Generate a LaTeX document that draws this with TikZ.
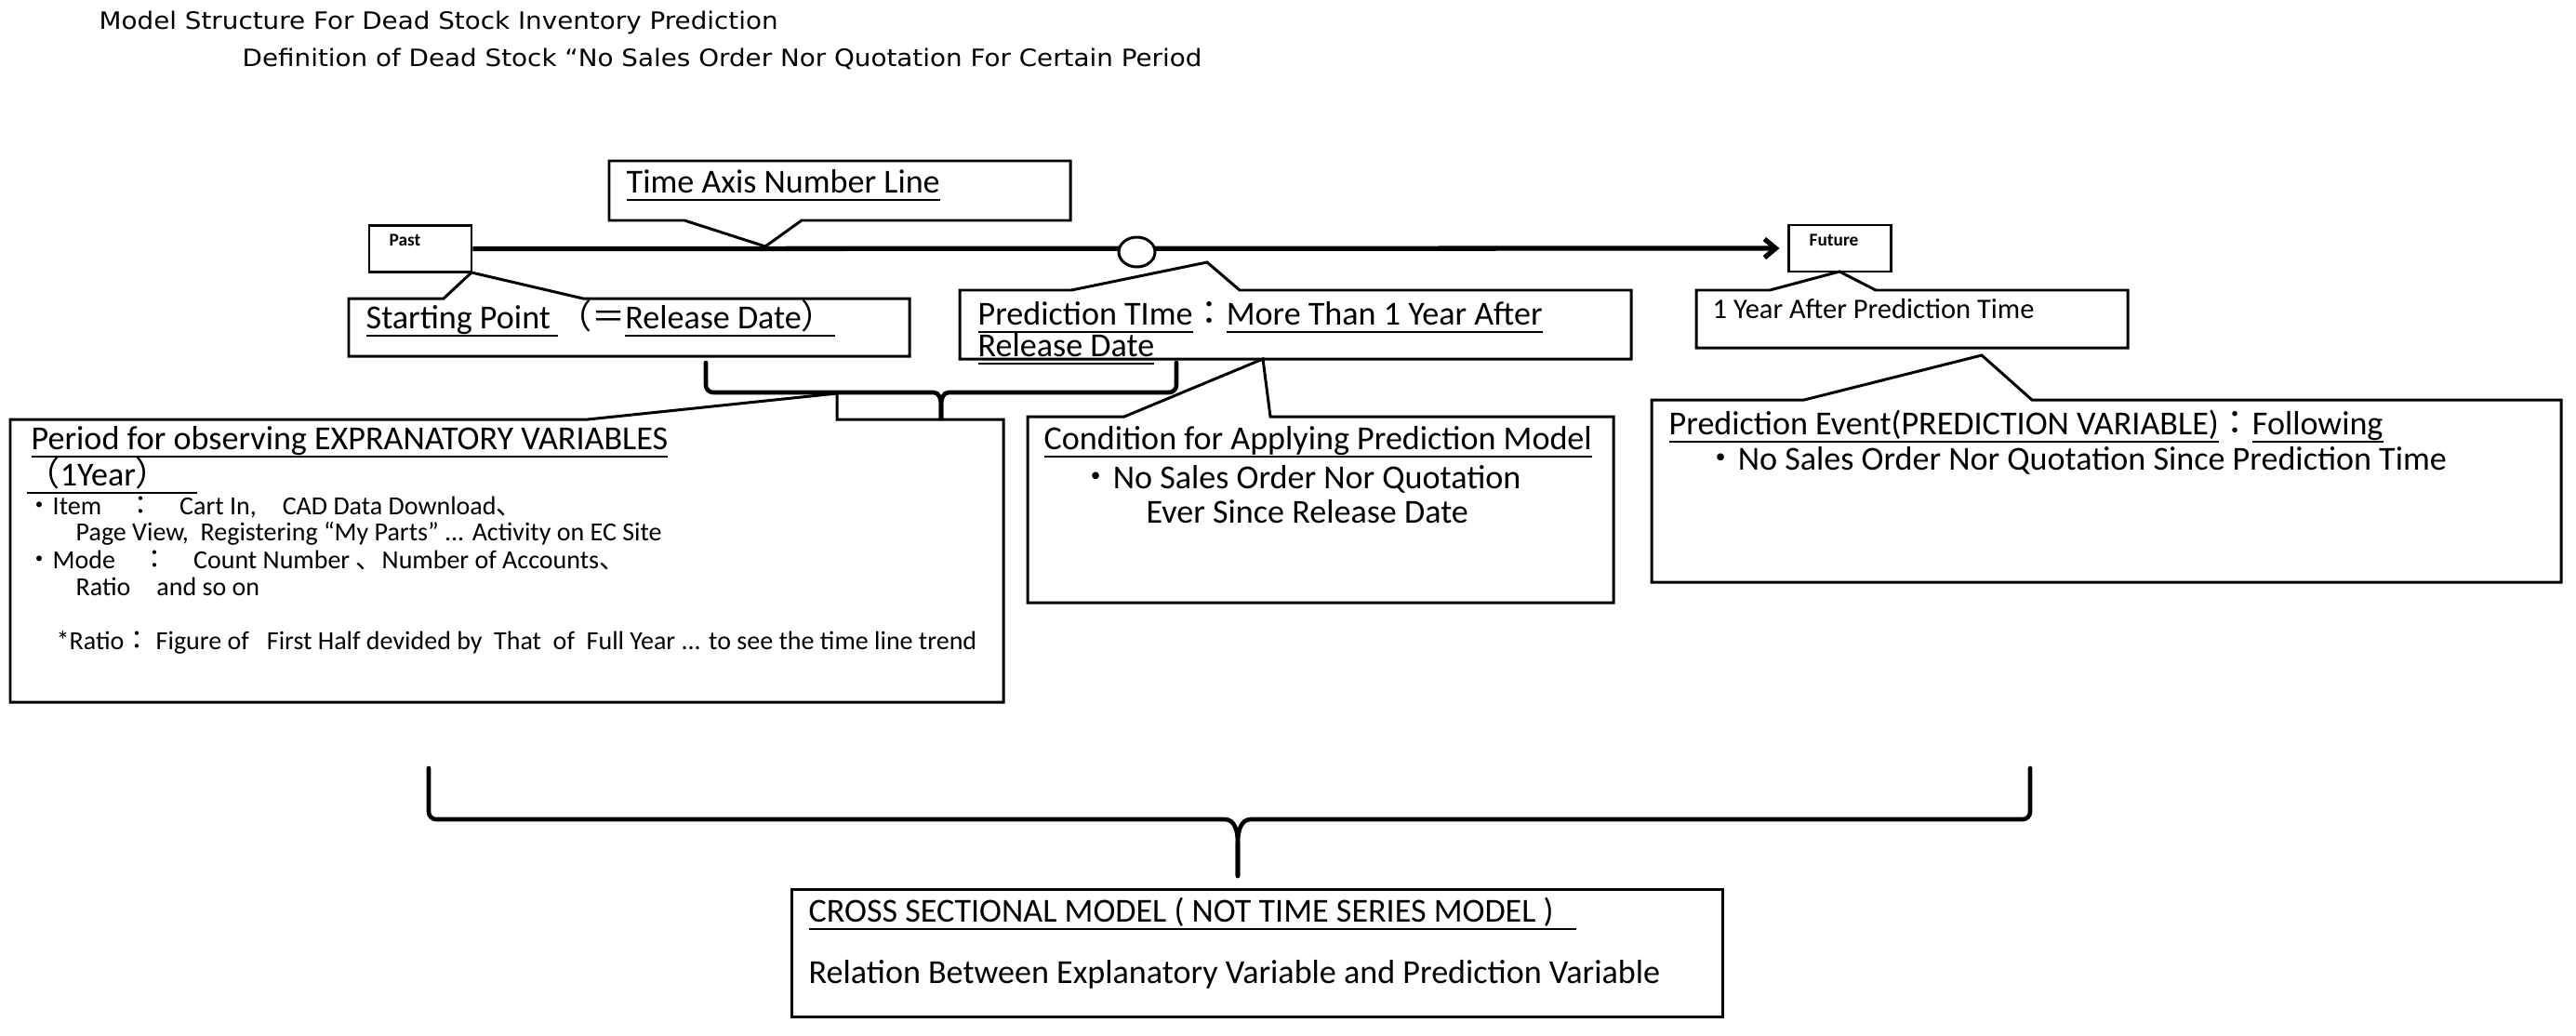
\documentclass[tikz,border=0pt]{standalone}
\usepackage{fontspec}
\setmainfont{Carlito}
\newfontfamily\jpf{Noto Sans CJK JP}
\newfontfamily\ttlf{DejaVu Sans}
\usepackage{xcolor}
\usepackage{graphicx}
\usepackage{tkz-euclide}
\usetikzlibrary{arrows.meta,shapes.geometric}
% subrayado a profundidad fija
\newcommand{\subr}[1]{\setbox0\hbox{#1}\rlap{\rule[-0.085cm]{\wd0}{0.55pt}}\box0}

\begin{document}
\begin{tikzpicture}[
        caja/.style={line width=0.85pt, line join=miter},
        llave/.style={line width=1.3pt, line cap=round},
        txt/.style={anchor=base west, inner sep=0pt, font=\fontsize{10.27}{12}\selectfont},
        chico/.style={txt, font=\fontsize{7.97}{9}\selectfont},
        rotulo/.style={txt, font=\fontsize{5.5}{6}\selectfont\bfseries},
        titulo/.style={txt, font=\ttlf\fontsize{7.3}{8}\selectfont}]
        \useasboundingbox (0,0) rectangle (27.70,-11.14);

        % Paso 1: Títulos de la figura
        \node[titulo] (ttlA) at (1.06,-0.31) {\scalebox{1.083}[1]{Model Structure For Dead Stock Inventory Prediction}};
        \node[titulo] (ttlB) at (2.60,-0.71) {\scalebox{1.083}[1]{Definition of Dead Stock “No Sales Order Nor Quotation For Certain Period}};

        % Paso 2: Cajas Past y Future, eje del tiempo con el instante de predicción
        \node[draw, caja, minimum width=1.10cm, minimum height=0.50cm, inner sep=0pt] (past) at (4.52,-2.675) {};
        \node[draw, caja, minimum width=1.10cm, minimum height=0.50cm, inner sep=0pt] (futuro) at (19.78,-2.67) {};
        \node[rotulo] (pastTxt) at (4.18,-2.64) {Past};
        \node[rotulo] (futTxt) at (19.45,-2.64) {Future};
        \draw[line width=1.5pt, -{Straight Barb[length=0.12cm,width=0.20cm]}] (past.east) -- ([xshift=-0.08cm]futuro.west);
        \node[ellipse, draw, caja, fill=white, minimum width=0.39cm, minimum height=0.32cm, inner sep=0pt] (ahora) at (12.225,-2.71) {};

        % Paso 3: Globo "Time Axis Number Line"
        \tkzDefPoint(6.55,-1.73){T1} \tkzDefPoint(11.51,-1.73){T2}
        \tkzDefPoint(11.51,-2.37){T3} \tkzDefPoint(8.62,-2.37){T4}
        \tkzDefPoint(8.23,-2.65){T5} % punta sobre el eje
        \tkzDefPoint(7.36,-2.37){T6} \tkzDefPoint(6.55,-2.37){T7}
        \tkzDrawPolygon[caja](T1,T2,T3,T4,T5,T6,T7)
        \node[txt] (ejeTxt) at (6.73,-2.07) {\subr{Time Axis Number Line}};

        % Paso 4: Globo del punto de partida
        \tkzDefPoint(3.75,-3.21){S1} \tkzDefPoint(4.77,-3.21){S2}
        \tkzDefPoint(5.07,-2.93){S3} % esquina de Past
        \tkzDefPoint(6.27,-3.21){S4} \tkzDefPoint(9.78,-3.21){S5}
        \tkzDefPoint(9.78,-3.83){S6} \tkzDefPoint(3.75,-3.83){S7}
        \tkzDrawPolygon[caja](S1,S2,S3,S4,S5,S6,S7)
        \node[txt] (inicioTxt) at (3.93,-3.53) {\subr{Starting Point\ }{\jpf （＝}\subr{Release Date{\jpf ）}}};

        % Paso 5: Globo del instante de predicción
        \tkzDefPoint(10.32,-3.12){P1} \tkzDefPoint(11.52,-3.12){P2}
        \tkzDefPoint(12.98,-2.82){P3} % punta junto al círculo
        \tkzDefPoint(13.33,-3.12){P4} \tkzDefPoint(17.54,-3.12){P5}
        \tkzDefPoint(17.54,-3.86){P6} \tkzDefPoint(10.32,-3.86){P7}
        \tkzDrawPolygon[caja](P1,P2,P3,P4,P5,P6,P7)
        \node[txt] (predTxtA) at (10.51,-3.49) {\subr{Prediction TIme}{\jpf ：}\subr{More Than 1 Year After}};
        \node[txt] (predTxtB) at (10.51,-3.83) {\subr{Release Date}};

        % Paso 6: Globo de la condición de aplicación
        \tkzDefPoint(11.05,-4.48){C1} \tkzDefPoint(12.09,-4.48){C2}
        \tkzDefPoint(13.58,-3.86){C3} % punta en el globo anterior
        \tkzDefPoint(13.66,-4.48){C4} \tkzDefPoint(17.35,-4.48){C5}
        \tkzDefPoint(17.35,-6.48){C6} \tkzDefPoint(11.05,-6.48){C7}
        \tkzDrawPolygon[caja](C1,C2,C3,C4,C5,C6,C7)
        \node[txt] (condTxtA) at (11.22,-4.83) {\subr{Condition for Applying Prediction Model}};
        \node[txt] (condTxtB) at (11.60,-5.25) {{\jpf ・}No Sales Order Nor Quotation};
        \node[txt] (condTxtC) at (12.32,-5.62) {Ever Since Release Date};

        % Paso 7: Llave pequeña sobre el periodo de observación
        \draw[llave] (7.59,-3.90) -- (7.59,-4.14) to[out=-90,in=180] (7.67,-4.22) -- (10.04,-4.22) to[out=0,in=90] (10.12,-4.36) -- (10.12,-4.50);
        \draw[llave] (12.65,-3.90) -- (12.65,-4.14) to[out=-90,in=0] (12.57,-4.22) -- (10.20,-4.22) to[out=180,in=90] (10.12,-4.36) -- (10.12,-4.50);

        % Paso 8: Globo de las variables explicativas
        \tkzDefPoint(0.11,-4.51){E1} \tkzDefPoint(6.32,-4.51){E2}
        \tkzDefPoint(9.00,-4.23){E3} % punta en la llave
        \tkzDefPoint(9.00,-4.51){E4} \tkzDefPoint(10.79,-4.51){E5}
        \tkzDefPoint(10.79,-7.55){E6} \tkzDefPoint(0.11,-7.55){E7}
        \tkzDrawPolygon[caja](E1,E2,E3,E4,E5,E6,E7)
        \node[txt] (expA) at (0.33,-4.83) {\subr{Period for observing EXPRANATORY VARIABLES}};
        \node[txt] (expB) at (0.28,-5.22) {\subr{{\jpf （}1Year{\jpf ）}\hspace{0.3cm}}};
        \node[chico] (expC) at (0.28,-5.53) {{\jpf ・}Item{\jpf 　：　}Cart In,{\jpf 　}CAD Data Download{\jpf 、}};
        \node[chico] (expD) at (0.81,-5.81) {Page View,\ \ Registering “My Parts” ... Activity on EC Site};
        \node[chico] (expE) at (0.28,-6.11) {{\jpf ・}Mode{\jpf 　：　}Count Number {\jpf 、}Number of Accounts{\jpf 、}};
        \node[chico] (expF) at (0.81,-6.40) {Ratio{\jpf 　}and so on};
        \node[chico] (expG) at (0.60,-6.98) {*Ratio{\jpf ：}\ Figure of\ \ \ First Half devided by\ \ That\ \ of\ \ Full Year ... to see the time line trend};

        % Paso 9: Globo "1 Year After Prediction Time"
        \tkzDefPoint(18.24,-3.12){Y1} \tkzDefPoint(19.03,-3.12){Y2}
        \tkzDefPoint(19.78,-2.92){Y3} % punta bajo Future
        \tkzDefPoint(20.17,-3.12){Y4} \tkzDefPoint(22.88,-3.12){Y5}
        \tkzDefPoint(22.88,-3.74){Y6} \tkzDefPoint(18.24,-3.74){Y7}
        \tkzDrawPolygon[caja](Y1,Y2,Y3,Y4,Y5,Y6,Y7)
        \node[txt, font=\fontsize{8.68}{10}\selectfont] (unAnoTxt) at (18.41,-3.42) {1 Year After Prediction Time};

        % Paso 10: Globo del evento a predecir
        \tkzDefPoint(17.76,-4.30){V1} \tkzDefPoint(19.40,-4.30){V2}
        \tkzDefPoint(21.31,-3.82){V3} % punta bajo el globo anterior
        \tkzDefPoint(21.85,-4.30){V4} \tkzDefPoint(27.54,-4.30){V5}
        \tkzDefPoint(27.54,-6.26){V6} \tkzDefPoint(17.76,-6.26){V7}
        \tkzDrawPolygon[caja](V1,V2,V3,V4,V5,V6,V7)
        \node[txt] (eventoTxtA) at (17.94,-4.67) {\subr{Prediction Event(PREDICTION VARIABLE)}{\jpf ：}\subr{Following}};
        \node[txt] (eventoTxtB) at (18.32,-5.05) {{\jpf ・}No Sales Order Nor Quotation Since Prediction Time};

        % Paso 11: Llave grande y modelo transversal
        \draw[llave] (4.61,-8.26) -- (4.61,-8.73) to[out=-90,in=180] (4.69,-8.81) -- (13.17,-8.81) to[out=0,in=90] (13.31,-9.06) -- (13.31,-9.42);
        \draw[llave] (21.83,-8.26) -- (21.83,-8.73) to[out=-90,in=0] (21.75,-8.81) -- (13.45,-8.81) to[out=180,in=90] (13.31,-9.06) -- (13.31,-9.42);
        \tkzDefPoint(8.51,-9.56){X1} \tkzDefPoint(18.52,-9.56){X2}
        \tkzDefPoint(18.52,-10.93){X3} \tkzDefPoint(8.51,-10.93){X4}
        \tkzDrawPolygon[caja](X1,X2,X3,X4)
        \node[txt] (transTxtA) at (8.69,-9.91) {\subr{CROSS SECTIONAL MODEL ( NOT TIME SERIES MODEL )\ \ \ }};
        \node[txt] (transTxtB) at (8.69,-10.57) {Relation Between Explanatory Variable and Prediction Variable};
    \end{tikzpicture}
\end{document}
